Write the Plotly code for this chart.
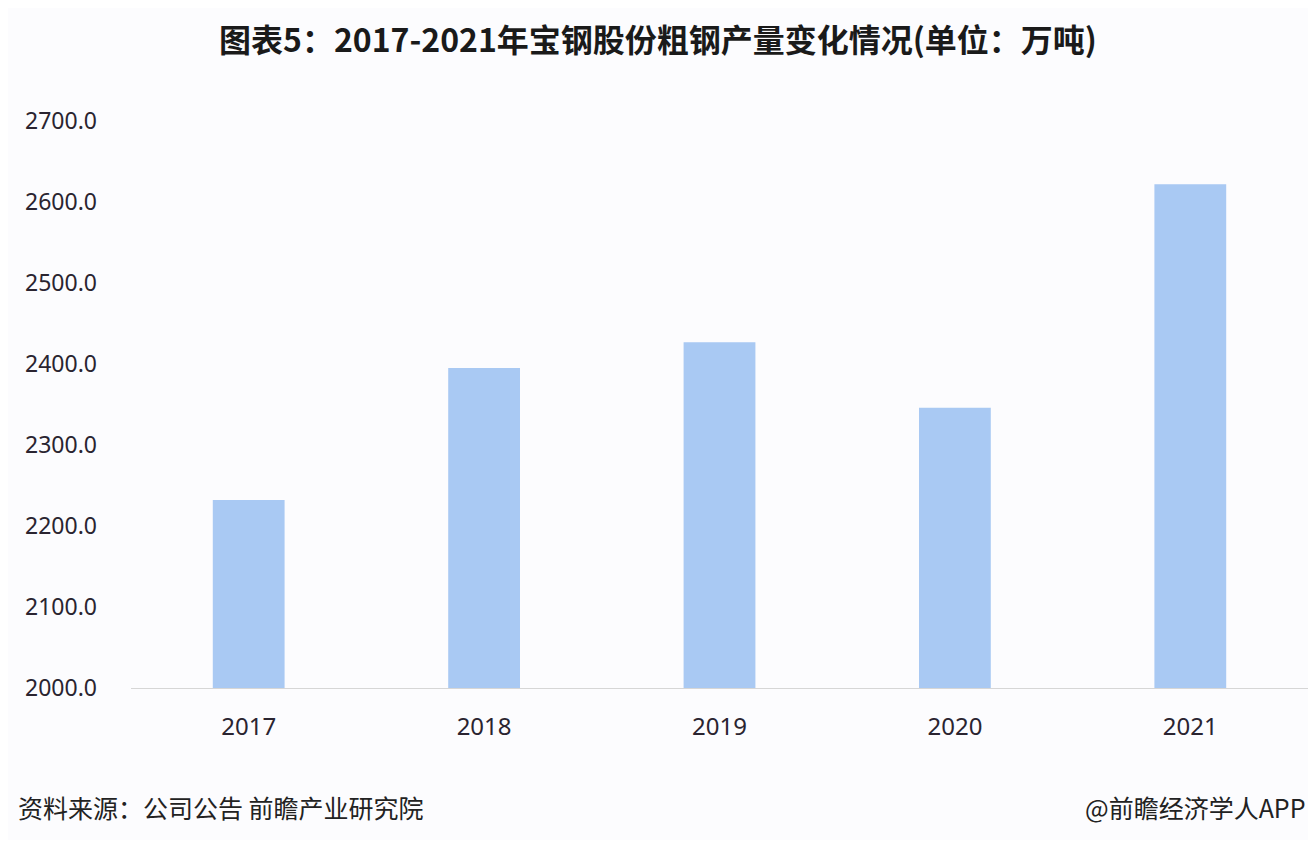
import plotly.graph_objects as go

years = ["2017", "2018", "2019", "2020", "2021"]
output_wt = [2232.0, 2395.0, 2427.0, 2346.0, 2622.0]
y_ticks = [2000, 2100, 2200, 2300, 2400, 2500, 2600, 2700]

font_cjk = "Noto Sans CJK SC"
font_num = "Noto Sans"

fig = go.Figure()
fig.add_trace(go.Bar(
    x=years,
    y=output_wt,
    marker_color="#a9c9f3",
    marker_line_width=0,
    width=0.305,
))

# page body has an 8px margin, so the figure is a bit smaller than the window
fig.update_layout(
    width=1300,
    height=832,
    margin=dict(l=123, r=0, t=113, b=152),
    paper_bgcolor="#fcfcfe",
    plot_bgcolor="#fcfcfe",
    showlegend=False,
    font=dict(family=font_num, size=23, color="#2a2430"),
    title=dict(
        text="<b>图表5：2017-2021年宝钢股份粗钢产量变化情况(单位：万吨)</b>",
        x=0.5,
        xref="container",
        xanchor="center",
        y=0.960,
        yref="container",
        yanchor="middle",
        font=dict(family=font_cjk, size=32, color="#1a1a1a"),
    ),
)
fig.update_xaxes(
    showline=True,
    linecolor="#d6d6d6",
    linewidth=1,
    showgrid=False,
    ticks="",
    ticklabelstandoff=17,
    tickfont=dict(family=font_num, size=24, color="#2a2430"),
)
fig.update_yaxes(
    range=[2000, 2700],
    tickvals=y_ticks,
    tickformat=".1f",
    showgrid=False,
    zeroline=False,
    showline=False,
    ticks="",
    ticklabelstandoff=33,
    tickfont=dict(family=font_num, size=23, color="#2a2430"),
)

fig.add_annotation(
    text="资料来源：公司公告 前瞻产业研究院",
    xref="paper", yref="paper", x=-0.0977, y=-0.21,
    xanchor="left", yanchor="middle", showarrow=False,
    font=dict(family=font_cjk, size=25, color="#222222"),
)
fig.add_annotation(
    text="@前瞻经济学人APP",
    xref="paper", yref="paper", x=1.0, y=-0.21,
    xanchor="right", yanchor="middle", showarrow=False,
    font=dict(family=font_cjk, size=25, color="#222222"),
)

fig.write_html("out.html")
